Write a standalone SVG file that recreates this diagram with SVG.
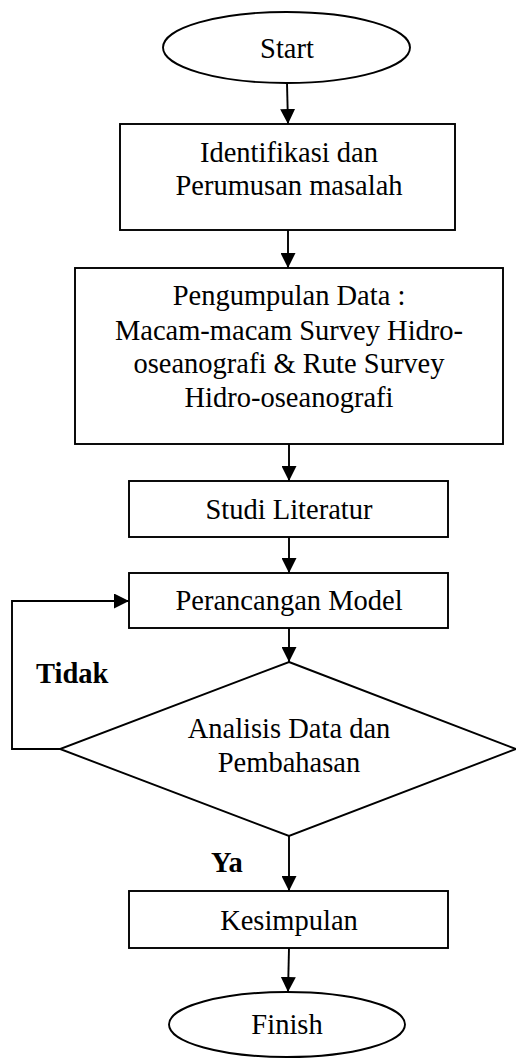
<svg xmlns="http://www.w3.org/2000/svg" width="516" height="1059" viewBox="0 0 516 1059">
<style>
.s{fill:#fff;stroke:#000;stroke-width:1.9}
.t{font-family:"Liberation Serif","Times New Roman",serif;font-size:28.5px;fill:#000;text-anchor:middle}
.b{font-family:"Liberation Serif","Times New Roman",serif;font-size:28.5px;font-weight:bold;fill:#000}
.c{fill:none;stroke:#000;stroke-width:1.9}
</style>
<defs>
<marker id="ah" markerUnits="userSpaceOnUse" markerWidth="15" markerHeight="15" viewBox="0 0 15 15" refX="15" refY="7.5" orient="auto">
<path d="M0,0 L15,7.5 L0,15 Z" fill="#000"/>
</marker>
</defs>
<rect width="516" height="1059" fill="#fff"/>
<g id="connectors">
<path class="c" d="M287,83 L288,124" marker-end="url(#ah)"/>
<path class="c" d="M288,230 L288,268" marker-end="url(#ah)"/>
<path class="c" d="M289,444 L289,481" marker-end="url(#ah)"/>
<path class="c" d="M289,537 L289,573" marker-end="url(#ah)"/>
<path class="c" d="M289,628 L289,662" marker-end="url(#ah)"/>
<path class="c" d="M60,749 L12,749 L12,601 L129,601" marker-end="url(#ah)"/>
<path class="c" d="M289,836 L289,891" marker-end="url(#ah)"/>
<path class="c" d="M289,948 L288,992" marker-end="url(#ah)"/>
</g>
<g id="start">
<ellipse class="s" cx="286.5" cy="47.5" rx="123.5" ry="35.5"/>
<text class="t" x="287" y="58">Start</text>
</g>
<g id="identifikasi">
<rect class="s" x="120" y="124" width="335" height="106"/>
<text class="t" x="289" y="162">Identifikasi dan</text>
<text class="t" x="289" y="195">Perumusan masalah</text>
</g>
<g id="pengumpulan">
<rect class="s" x="75" y="268" width="428" height="176"/>
<text class="t" x="289" y="305">Pengumpulan Data :</text>
<text class="t" x="289" y="340">Macam-macam Survey Hidro-</text>
<text class="t" x="289" y="373">oseanografi &amp; Rute Survey</text>
<text class="t" x="289" y="407">Hidro-oseanografi</text>
</g>
<g id="studi">
<rect class="s" x="129" y="481" width="319" height="56"/>
<text class="t" x="289" y="519">Studi Literatur</text>
</g>
<g id="perancangan">
<rect class="s" x="129" y="573" width="319" height="55"/>
<text class="t" x="289" y="610">Perancangan Model</text>
</g>
<g id="analisis">
<polygon class="s" points="289,662 516,749 289,836 60,749"/>
<text class="t" x="289" y="738">Analisis Data dan</text>
<text class="t" x="289" y="772">Pembahasan</text>
</g>
<g id="labels">
<text class="b" x="36" y="683">Tidak</text>
<text class="b" x="211" y="872">Ya</text>
</g>
<g id="kesimpulan">
<rect class="s" x="129" y="891" width="319" height="57"/>
<text class="t" x="289" y="930">Kesimpulan</text>
</g>
<g id="finish">
<ellipse class="s" cx="287" cy="1024.5" rx="118" ry="32.5"/>
<text class="t" x="287" y="1034">Finish</text>
</g>
</svg>
